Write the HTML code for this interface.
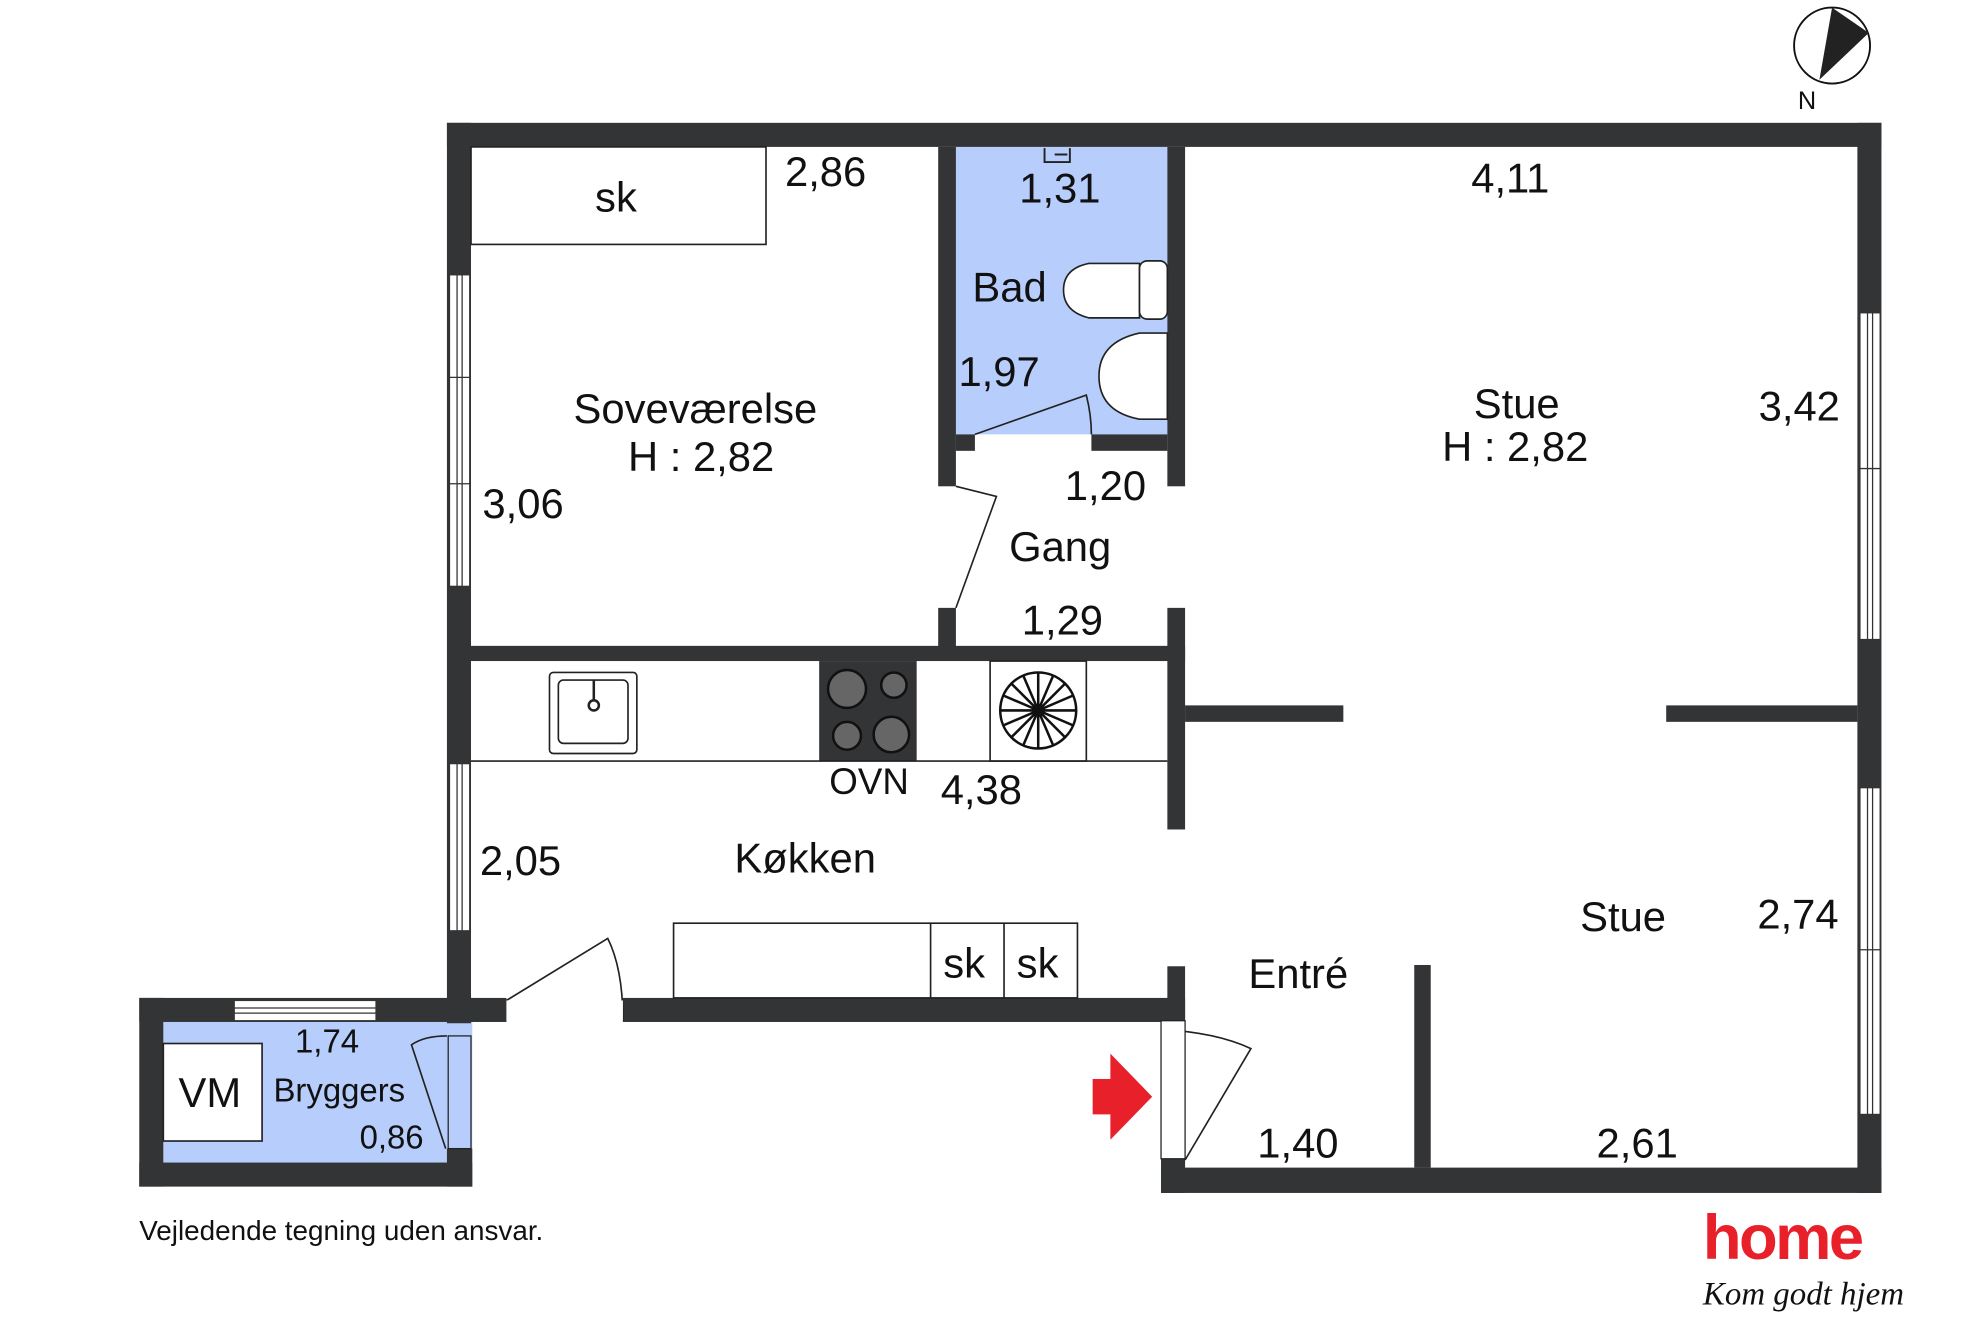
<!DOCTYPE html>
<html><head><meta charset="utf-8"><style>
html,body{margin:0;padding:0;background:#fff}
svg{display:block}
text{font-family:"Liberation Sans Narrow","Liberation Sans",sans-serif;fill:#111}
</style></head><body>
<svg width="1984" height="1323" viewBox="0 0 1567 1044.7" preserveAspectRatio="none" xmlns="http://www.w3.org/2000/svg">
<rect x="755" y="116" width="167" height="227" fill="#b7cdfb"/>
<rect x="129" y="807" width="244" height="111" fill="#b7cdfb"/>
<g fill="#333436">
<rect x="353" y="97" width="1133" height="19"/>
<rect x="353" y="97" width="19" height="711"/>
<rect x="1467" y="97" width="19" height="845"/>
<rect x="917" y="922" width="569" height="20"/>
<rect x="917" y="915" width="19" height="27"/>
<rect x="372" y="788" width="28" height="19"/>
<rect x="492" y="788" width="444" height="19"/>
<rect x="922" y="763" width="14" height="44"/>
<rect x="110" y="788" width="263" height="19"/>
<rect x="110" y="788" width="19" height="149"/>
<rect x="110" y="918" width="263" height="19"/>
<rect x="353" y="907" width="20" height="30"/>
<rect x="372" y="510" width="564" height="12"/>
<rect x="741" y="116" width="14" height="268"/>
<rect x="741" y="480" width="14" height="32"/>
<rect x="922" y="116" width="14" height="268"/>
<rect x="922" y="480" width="14" height="175"/>
<rect x="755" y="343" width="15" height="13"/>
<rect x="862" y="343" width="60" height="13"/>
<rect x="936" y="557" width="125" height="13"/>
<rect x="1316" y="557" width="151" height="13"/>
<rect x="1117" y="762" width="13" height="160"/>
<rect x="647" y="522" width="77" height="79"/>
</g>
<g fill="#fff" stroke="#333" stroke-width="1">
<rect x="355" y="217" width="16" height="246"/>
<rect x="355" y="603" width="16" height="132"/>
<rect x="1469" y="247" width="16" height="258"/>
<rect x="1469" y="622" width="16" height="258"/>
<rect x="185" y="790" width="112" height="16"/>
</g>
<g stroke="#333" stroke-width="1">
<line x1="361" y1="217" x2="361" y2="463"/><line x1="365" y1="217" x2="365" y2="463"/>
<line x1="355" y1="298" x2="371" y2="298"/><line x1="355" y1="382" x2="371" y2="382"/>
<line x1="361" y1="603" x2="361" y2="735"/><line x1="365" y1="603" x2="365" y2="735"/>
<line x1="1475" y1="247" x2="1475" y2="505"/><line x1="1479" y1="247" x2="1479" y2="505"/>
<line x1="1469" y1="370" x2="1485" y2="370"/>
<line x1="1475" y1="622" x2="1475" y2="880"/><line x1="1479" y1="622" x2="1479" y2="880"/>
<line x1="1469" y1="750" x2="1485" y2="750"/>
<line x1="185" y1="796" x2="297" y2="796"/><line x1="185" y1="800" x2="297" y2="800"/>
</g>
<g fill="none" stroke="#222" stroke-width="1.3">
<rect x="372" y="116" width="233" height="77"/>
<line x1="372" y1="601" x2="922" y2="601"/>
<rect x="434" y="531" width="69" height="64" rx="3"/>
<rect x="441" y="537" width="55" height="50" rx="4"/>
<rect x="782" y="522" width="76" height="79"/>
<rect x="532" y="729" width="319" height="59"/>
<line x1="735" y1="729" x2="735" y2="788"/><line x1="793" y1="729" x2="793" y2="788"/>
<rect x="129" y="824" width="78" height="77" fill="#fff"/>
<path d="M755 384 L787 392 L755 480"/>
<path d="M770 343 L858 312 Q862 328 862 343"/>
<path d="M400 790 L480 741 Q492 765 492 806"/>
<path d="M917 813 Q960 815 988 828 L936 916"/>
<path d="M353 818 Q335 818 325 825 L352 907"/>
<path d="M900 208 L860 208 Q840 212 840 229 Q840 246 860 251 L900 251 Z" fill="#fff"/>
<rect x="900" y="206" width="22" height="46" rx="6" fill="#fff"/>
<path d="M922 263 L900 263 Q868 270 868 297 Q868 325 900 331 L922 331 Z" fill="#fff"/>
</g>
<rect x="354" y="818" width="18" height="89" fill="#b7cdfb" stroke="#222" stroke-width="1"/>
<rect x="400" y="790" width="92" height="16" fill="#fff"/>
<rect x="917" y="806" width="19" height="109" fill="#fff" stroke="#222" stroke-width="1"/>
<g fill="#666" stroke="#111" stroke-width="2">
<circle cx="669" cy="544" r="15"/><circle cx="706" cy="541" r="10"/>
<circle cx="669" cy="581" r="11"/><circle cx="704" cy="580" r="14"/>
</g>
<circle cx="469" cy="557" r="4" fill="none" stroke="#222" stroke-width="2"/>
<line x1="469" y1="537" x2="469" y2="553" stroke="#222" stroke-width="2"/>
<g stroke="#111" stroke-width="2" fill="none">
<circle cx="820" cy="561" r="30"/>
<path d="M790 561 H850 M820 531 V591 M799 540 L841 582 M841 540 L799 582 M808 533 L832 589 M832 533 L808 589 M792 549 L848 573 M792 573 L848 549"/>
</g>
<circle cx="820" cy="561" r="5" fill="#111"/>
<path d="M863 852 L877 852 L877 832 L910 866 L877 900 L877 880 L863 880 Z" fill="#e8202a"/>
<path d="M825 117 V128 H845 V117 M833 122 h10" stroke="#222" stroke-width="1.5" fill="none"/>
<circle cx="1447" cy="36" r="30" fill="#fff" stroke="#111" stroke-width="1.5"/>
<path d="M1447 6 L1476 26 L1437 63 Z" fill="#222"/>
<text x="1420" y="86" font-size="20">N</text>
<g font-size="33">
<text x="470" y="167">sk</text>
<text x="620" y="147">2,86</text>
<text x="805" y="160">1,31</text>
<text x="1162" y="152">4,11</text>
<text x="768" y="238">Bad</text>
<text x="757" y="305">1,97</text>
<text x="453" y="334">Soveværelse</text>
<text x="496" y="372">H : 2,82</text>
<text x="381" y="409">3,06</text>
<text x="1164" y="330">Stue</text>
<text x="1139" y="364">H : 2,82</text>
<text x="1389" y="332">3,42</text>
<text x="841" y="395">1,20</text>
<text x="797" y="443">Gang</text>
<text x="807" y="501">1,29</text>
<text x="655" y="627" font-size="29">OVN</text>
<text x="743" y="635">4,38</text>
<text x="379" y="691">2,05</text>
<text x="580" y="689">Køkken</text>
<text x="1248" y="735">Stue</text>
<text x="1388" y="733">2,74</text>
<text x="745" y="772">sk</text>
<text x="803" y="772">sk</text>
<text x="986" y="780">Entré</text>
<text x="993" y="914">1,40</text>
<text x="1261" y="914">2,61</text>
<text x="141" y="874">VM</text>
</g>
<g font-size="26">
<text x="233" y="831">1,74</text>
<text x="216" y="870">Bryggers</text>
<text x="284" y="907">0,86</text>
</g>
<text x="110" y="979" font-size="22">Vejledende tegning uden ansvar.</text>
<text x="1345" y="994" font-size="50" font-weight="bold" style="fill:#e8202a;font-family:'Liberation Sans',sans-serif;letter-spacing:-2px">home</text>
<text x="1345" y="1030" font-size="26" font-style="italic" style="font-family:'Liberation Serif',serif">Kom godt hjem</text>
</svg>
</body></html>
